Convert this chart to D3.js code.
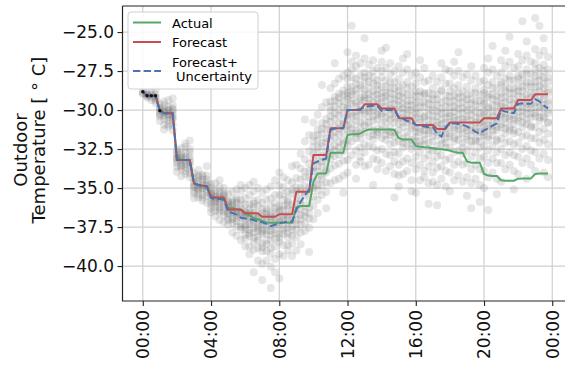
<!DOCTYPE html>
<html><head><meta charset="utf-8">
<script src="https://cdn.jsdelivr.net/npm/d3@7"></script>
<style>body{margin:0;background:#fff} svg{display:block;font-family:"DejaVu Sans",sans-serif}</style>
</head><body><svg id="c" width="565" height="368"></svg>
<script>
// time step of all series: 15 minutes, starting 00:00
const stepHours = 0.25;

const actual = [
 -28.83,-29.08,-29.08,-29.08, -30.04,-30.2,-30.2,-30.2, -33.0,-33.2,-33.2,-33.2, -34.7,-34.8,-34.85,-34.87,
 -35.55,-35.6,-35.6,-35.65, -36.3,-36.3,-36.35,-36.4, -36.6,-36.75,-36.94,-37.0, -37.1,-37.2,-37.22,-37.22,
 -37.22,-37.22,-37.22,-37.22, -36.25,-36.15,-36.15,-36.15, -34.6,-34.06,-34.06,-34.06, -32.75,-32.73,-32.73,-32.73,
 -31.6,-31.55,-31.55,-31.5, -31.35,-31.25,-31.25,-31.25, -31.25,-31.25,-31.25,-31.28, -31.8,-31.88,-31.88,-31.88,
 -32.3,-32.35,-32.38,-32.4, -32.45,-32.5,-32.52,-32.55, -32.6,-32.68,-32.73,-32.73, -33.3,-33.37,-33.37,-33.37,
 -34.1,-34.2,-34.23,-34.23, -34.5,-34.53,-34.53,-34.53, -34.4,-34.38,-34.38,-34.38, -34.1,-34.06,-34.06,-34.06
];
const forecast = [
 -28.83,-29.08,-29.08,-29.08, -30.04,-30.2,-30.2,-30.2, -33.2,-33.2,-33.2,-33.2, -34.7,-34.8,-34.85,-34.87,
 -35.55,-35.6,-35.6,-35.6, -36.37,-36.37,-36.37,-36.37, -36.62,-36.62,-36.62,-36.62, -36.84,-36.84,-36.84,-36.84,
 -36.68,-36.68,-36.68,-36.68, -35.24,-35.24,-35.24,-35.24, -32.88,-32.88,-32.88,-32.88, -31.17,-31.17,-31.17,-31.17,
 -30.0,-30.0,-30.0,-30.0, -29.63,-29.63,-29.63,-29.63, -29.9,-29.9,-29.9,-29.9, -30.53,-30.53,-30.53,-30.53,
 -30.96,-30.96,-30.96,-30.96, -30.96,-31.22,-31.22,-31.22, -30.79,-30.79,-30.79,-30.79, -30.79,-30.79,-30.79,-30.79,
 -30.53,-30.53,-30.53,-30.53, -29.9,-29.9,-29.9,-29.9, -29.36,-29.36,-29.36,-29.36, -28.99,-28.99,-28.99,-28.99
];
const forecastUnc = [
 -28.83,-29.08,-29.08,-29.08, -30.04,-30.2,-30.2,-30.2, -33.2,-33.2,-33.2,-33.2, -34.7,-34.8,-34.85,-34.9,
 -35.65,-35.7,-35.7,-35.75, -36.5,-36.6,-36.7,-36.9, -36.95,-37.0,-37.05,-37.15, -37.2,-37.3,-37.45,-37.35,
 -37.25,-37.2,-37.15,-37.15, -36.4,-35.9,-35.45,-35.1, -33.42,-33.3,-33.2,-33.1, -31.28,-31.17,-31.17,-31.17,
 -30.0,-30.0,-30.0,-29.95, -29.8,-29.75,-29.72,-29.75, -30.06,-30.0,-30.0,-30.0, -30.43,-30.55,-30.7,-30.75,
 -30.96,-31.0,-31.05,-31.1, -31.1,-31.5,-31.7,-31.1, -30.85,-30.85,-30.9,-30.95, -31.05,-31.2,-31.4,-31.5,
 -31.3,-31.17,-31.0,-30.85, -30.0,-30.1,-30.15,-30.2, -29.6,-29.57,-29.6,-29.6, -29.3,-29.45,-29.7,-29.9
];
// observed history shown as black dots (first hour)
const history = [-28.83,-29.08,-29.08,-29.08,-30.04];

// scattered samples, one column per 15-minute step (outer spread)
const scatter = [
 [-28.8,-28.95],[-29.05,-29.2,-28.9],[-29.1,-28.85,-29.35],[-29.0,-29.25,-28.7,-29.55],
 [-29.6,-30.05,-30.3,-30.7,-29.85],[-29.45,-29.95,-30.15,-30.55,-30.95,-31.25],[-29.35,-29.8,-30.05,-30.45,-30.65,-31.05,-30.25],[-29.7,-30.0,-30.35,-30.55,-30.95,-31.3,-29.25],
 [-32.55,-33.05,-33.25,-33.65,-33.95,-32.85],[-32.45,-32.95,-33.15,-33.55,-33.8,-34.25,-33.05],[-32.35,-32.75,-33.15,-33.45,-33.65,-34.1,-32.15],[-32.7,-33.0,-33.35,-33.55,-34.05,-34.3,-31.95],
 [-34.05,-34.35,-34.75,-34.95,-35.35,-35.65],[-33.85,-34.3,-34.55,-34.95,-35.15,-35.6,-35.05],[-34.15,-34.45,-34.85,-35.05,-35.45,-35.8,-34.25],[-34.2,-34.65,-34.9,-35.25,-35.5,-35.95,-33.6],
 [-34.75,-35.25,-35.45,-35.85,-36.05,-36.55,-35.0],[-34.7,-35.15,-35.35,-35.75,-35.95,-36.45,-36.8,-35.6],[-34.95,-35.25,-35.65,-35.85,-36.25,-36.55,-37.05,-34.5],[-35.0,-35.45,-35.65,-36.05,-36.25,-36.75,-37.2,-35.5],
 [-35.35,-35.85,-36.05,-36.45,-36.65,-37.05,-37.35,-35.9],[-35.25,-35.75,-35.95,-36.35,-36.55,-36.95,-37.25,-37.85,-36.2],[-35.1,-35.65,-35.95,-36.45,-36.75,-37.15,-37.45,-38.05,-36.6],[-35.2,-35.75,-36.05,-36.55,-36.85,-37.25,-37.65,-38.35,-34.8],
 [-35.0,-35.65,-36.05,-36.55,-36.85,-37.35,-37.65,-38.25,-38.75,-36.7],[-34.8,-35.45,-36.05,-36.35,-36.85,-37.15,-37.65,-38.05,-38.75,-39.25,-36.6],[-35.2,-35.85,-36.25,-36.75,-37.05,-37.55,-37.85,-38.45,-38.95,-40.4,-34.6],[-35.0,-35.75,-36.15,-36.65,-36.95,-37.45,-37.75,-38.35,-38.85,-39.65,-37.2],
 [-35.3,-35.95,-36.35,-36.85,-37.15,-37.65,-37.95,-38.55,-39.05,-39.85,-40.9],[-35.1,-35.75,-36.35,-36.65,-37.15,-37.45,-37.95,-38.35,-39.05,-39.65,-36.5],[-34.9,-35.65,-36.15,-36.65,-36.95,-37.45,-37.75,-38.35,-38.85,-40.05,-41.4],[-34.5,-35.45,-35.95,-36.55,-36.85,-37.35,-37.65,-38.25,-38.75,-39.55,-40.4],
 [-34.0,-34.85,-35.45,-36.15,-36.55,-37.05,-37.35,-37.95,-38.45,-39.25,-40.8],[-34.3,-34.95,-35.75,-36.15,-36.75,-37.05,-37.55,-37.95,-38.65,-39.35,-36.4],[-34.5,-35.25,-35.75,-36.35,-36.75,-37.25,-37.55,-38.15,-38.65,-35.9],[-33.6,-34.65,-35.35,-36.05,-36.45,-37.05,-37.45,-38.05,-38.55,-39.35],
 [-33.5,-34.35,-34.95,-35.65,-36.05,-36.65,-37.05,-37.65,-38.15,-39.0],[-32.8,-33.75,-34.45,-35.25,-35.75,-36.35,-36.75,-37.35,-37.85,-38.6],[-32.0,-33.15,-33.95,-34.85,-35.45,-36.15,-36.55,-37.25,-37.75,-30.6],[-31.6,-32.65,-33.45,-34.35,-34.95,-35.75,-36.25,-36.95,-37.55,-39.1],
 [-30.8,-31.65,-32.35,-33.15,-33.65,-34.35,-34.85,-35.55,-36.15,-37.0],[-30.3,-31.25,-31.95,-32.75,-33.25,-33.95,-34.45,-35.15,-35.75,-36.6],[-29.8,-30.85,-31.55,-32.35,-32.95,-33.65,-34.15,-34.85,-35.45,-28.4],[-29.5,-30.55,-31.25,-32.05,-32.65,-33.35,-33.85,-34.65,-35.25,-36.3],
 [-28.6,-29.45,-30.05,-30.75,-31.25,-31.95,-32.45,-33.15,-33.75,-34.7],[-28.3,-29.15,-29.75,-30.55,-31.05,-31.75,-32.25,-32.95,-33.55,-34.5,-27.0],[-28.0,-28.95,-29.55,-30.35,-30.85,-31.55,-32.05,-32.85,-33.45,-34.4],[-27.8,-28.75,-29.45,-30.25,-30.75,-31.45,-31.95,-32.65,-33.25,-34.2,-35.3],
 [-26.3,-27.6,-28.0,-28.9,-29.3,-29.8,-30.6,-31.0,-31.9,-32.3,-33.2,-34.0],[-24.6,-26.9,-27.4,-28.5,-29.0,-29.6,-30.2,-30.9,-31.5,-32.0,-32.9],[-26.5,-27.2,-28.3,-28.7,-29.5,-30.1,-30.4,-31.3,-31.8,-32.6,-33.5,-34.4],[-27.0,-27.8,-28.4,-29.2,-29.7,-30.3,-31.1,-31.5,-32.4,-33.0,-33.3],
 [-25.4,-26.7,-27.6,-28.2,-29.0,-29.4,-30.2,-30.7,-31.4,-32.2,-32.7,-33.6],[-27.1,-27.8,-28.6,-29.0,-29.9,-30.4,-30.8,-31.7,-32.3,-33.5],[-26.8,-27.5,-28.3,-29.1,-29.5,-30.0,-30.7,-31.3,-31.9,-32.4,-33.1,-34.8],[-27.3,-28.1,-28.7,-29.3,-30.1,-30.6,-31.2,-31.6,-32.6,-33.2,-33.8],
 [-26.2,-26.9,-27.9,-28.5,-29.2,-29.8,-30.4,-30.9,-31.8,-32.5,-33.4],[-26.0,-27.3,-28.1,-28.9,-29.4,-30.1,-30.5,-31.3,-31.9,-32.8,-33.9],[-27.0,-27.7,-28.6,-29.3,-29.7,-30.3,-31.1,-31.6,-32.2,-32.9,-33.6],[-27.5,-28.2,-29.0,-29.6,-30.2,-30.8,-31.4,-32.1,-32.7,-33.3,-34.1,-35.6],
 [-27.2,-28.0,-28.8,-29.4,-30.0,-30.9,-31.3,-32.0,-32.8,-33.5,-34.2,-34.9],[-26.7,-27.6,-28.4,-29.2,-29.9,-30.5,-31.1,-31.8,-32.4,-33.3,-34.1],[-26.4,-27.4,-28.2,-29.0,-29.7,-30.3,-30.8,-31.7,-32.2,-33.1,-33.9],[-27.8,-28.5,-29.4,-30.0,-30.7,-31.2,-31.9,-32.5,-33.4,-34.5,-35.2],
 [-27.6,-28.3,-29.1,-29.9,-30.5,-31.1,-31.7,-32.3,-33.0,-33.8,-35.3],[-26.8,-27.9,-28.8,-29.5,-30.2,-30.8,-31.4,-32.0,-32.7,-33.5,-34.5],[-27.3,-28.2,-29.0,-29.8,-30.4,-31.0,-31.6,-32.2,-33.1,-33.9,-34.3],[-28.1,-28.9,-29.6,-30.3,-31.0,-31.5,-32.1,-32.9,-33.6,-34.7,-36.0],
 [-27.8,-28.6,-29.3,-30.0,-30.7,-31.3,-32.0,-32.6,-33.3,-34.0,-34.6],[-28.2,-29.0,-29.7,-30.4,-31.0,-31.6,-32.3,-33.0,-33.7,-34.8,-36.1],[-27.0,-27.9,-28.7,-29.5,-30.2,-30.9,-31.5,-32.2,-32.9,-33.6,-34.4],[-27.4,-28.3,-29.1,-29.8,-30.5,-31.2,-31.8,-32.4,-33.2,-33.9,-34.9],
 [-27.5,-28.3,-29.1,-29.8,-30.4,-31.0,-31.7,-32.4,-33.1,-34.0,-35.2],[-26.9,-27.8,-28.6,-29.4,-30.1,-30.7,-31.3,-32.0,-32.7,-33.5,-34.5],[-26.3,-27.5,-28.4,-29.2,-29.9,-30.6,-31.2,-31.9,-32.6,-33.3,-34.2],[-27.9,-28.8,-29.5,-30.2,-30.8,-31.5,-32.1,-32.8,-33.5,-34.6],
 [-27.7,-28.5,-29.3,-30.0,-30.6,-31.3,-31.9,-32.6,-33.4,-34.3,-35.5],[-27.2,-28.1,-28.9,-29.6,-30.3,-31.0,-31.6,-32.3,-33.0,-33.8,-34.7,-36.3],[-27.8,-28.6,-29.4,-30.1,-30.8,-31.4,-32.0,-32.7,-33.5,-34.4],[-28.2,-29.0,-29.8,-30.5,-31.1,-31.7,-32.4,-33.1,-33.8,-34.8,-35.9],
 [-27.3,-28.1,-28.9,-29.6,-30.3,-31.0,-31.6,-32.3,-33.0,-33.9,-35.0],[-26.7,-27.6,-28.4,-29.2,-29.9,-30.6,-31.2,-31.9,-32.6,-33.4,-34.3,-36.4],[-25.9,-27.4,-28.2,-29.0,-29.7,-30.4,-31.0,-31.6,-32.3,-33.1,-34.0],[-27.8,-28.6,-29.4,-30.1,-30.7,-31.3,-32.0,-32.7,-33.4,-34.4,-35.4],
 [-26.8,-27.6,-28.4,-29.2,-29.8,-30.4,-31.1,-31.8,-32.5,-33.4,-34.6],[-26.2,-27.2,-28.0,-28.8,-29.5,-30.2,-30.8,-31.5,-32.1,-32.9,-33.8],[-25.3,-26.9,-27.8,-28.6,-29.3,-30.0,-30.6,-31.3,-32.0,-32.7,-33.5],[-27.3,-28.1,-28.9,-29.6,-30.3,-30.9,-31.5,-32.2,-32.9,-33.9,-35.1],
 [-26.4,-27.2,-28.0,-28.8,-29.5,-30.1,-30.7,-31.4,-32.1,-33.0,-34.1],[-24.3,-26.8,-27.7,-28.5,-29.2,-29.8,-30.4,-31.1,-31.7,-32.5,-33.4],[-25.6,-26.5,-27.4,-28.2,-29.0,-29.6,-30.2,-30.9,-31.6,-32.3,-33.1,-34.4],[-26.9,-27.7,-28.5,-29.2,-29.9,-30.5,-31.1,-31.8,-32.6,-33.5],
 [-24.1,-26.1,-27.0,-27.8,-28.5,-29.2,-29.8,-30.4,-31.1,-31.8,-32.7,-33.9],[-24.6,-26.5,-27.3,-28.1,-28.8,-29.5,-30.1,-30.7,-31.4,-32.1,-33.1],[-25.4,-26.2,-27.1,-27.9,-28.6,-29.3,-29.9,-30.5,-31.2,-31.9,-32.8,-34.0],[-26.6,-27.4,-28.2,-28.9,-29.6,-30.2,-30.8,-31.5,-32.2,-33.2,-34.3]
];
// denser samples near the centre of each column
const scatterCore = [
 [-28.9],[-29.1,-29.0],[-29.0,-29.2],[-29.15,-29.4],
 [-29.9,-30.2,-30.4],[-30.1,-30.35,-29.7],[-30.0,-30.3,-30.9],[-30.15,-30.5,-29.9],
 [-33.1,-33.4,-32.7],[-33.3,-32.8,-33.6],[-33.0,-33.35,-33.9],[-33.2,-33.8,-32.5],
 [-34.6,-34.9,-35.2],[-34.75,-35.4,-34.2],[-34.65,-35.0,-35.6],[-34.8,-35.1,-34.45],
 [-35.6,-35.35,-36.3],[-35.55,-35.9,-36.2],[-35.45,-36.0,-36.4],[-35.8,-35.3,-36.5],
 [-36.2,-36.6,-36.9],[-36.1,-36.45,-37.0],[-36.3,-36.9,-35.8],[-36.35,-36.7,-37.5],
 [-36.5,-37.0,-37.5,-38.0],[-36.7,-37.3,-37.9],[-36.6,-37.2,-38.2,-36.0],[-36.9,-37.6,-38.1],
 [-36.6,-37.3,-37.8,-38.8],[-36.9,-37.7,-38.6],[-36.8,-37.2,-38.0,-39.2],[-36.3,-37.1,-37.9],
 [-36.4,-37.2,-38.2],[-36.9,-37.7,-35.4],[-36.1,-37.0,-37.9,-39.0],[-36.8,-37.7,-35.1],
 [-35.2,-36.3,-37.3],[-35.0,-36.0,-37.0],[-34.3,-35.3,-36.8],[-33.9,-35.2,-36.6],
 [-32.0,-32.8,-33.9,-35.0],[-31.6,-32.4,-33.6,-34.8],[-31.2,-32.1,-33.3,-34.4],[-30.9,-31.8,-33.0,-34.0],
 [-29.8,-30.4,-31.6,-32.8],[-29.4,-30.2,-31.4,-32.6],[-29.2,-30.0,-31.2,-32.4],[-29.0,-29.8,-30.9,-32.2],
 [-28.5,-29.1,-29.9,-30.3,-31.3],[-27.9,-28.8,-29.4,-30.4,-31.2],[-28.0,-29.0,-29.8,-30.7,-31.5],[-28.6,-29.4,-30.0,-30.8,-31.8],
 [-27.9,-28.7,-29.2,-30.0,-31.0],[-28.2,-29.3,-29.6,-30.1,-31.1],[-27.9,-28.8,-29.8,-30.4,-31.6],[-28.4,-29.0,-29.6,-30.3,-31.4],
 [-27.5,-28.9,-29.5,-30.2,-31.3],[-28.5,-29.1,-29.8,-30.8,-31.6],[-28.2,-28.9,-29.9,-30.6,-31.4],[-28.6,-29.3,-30.0,-30.5,-31.7],
 [-28.5,-29.1,-29.7,-30.5,-31.6],[-28.9,-29.6,-30.2,-30.8,-32.1],[-28.6,-29.4,-30.0,-30.6,-31.4],[-29.0,-29.7,-30.4,-31.0,-32.2],
 [-28.8,-29.5,-30.2,-31.4,-32.0],[-29.1,-29.8,-30.6,-31.2,-32.3],[-28.9,-29.5,-30.5,-31.3,-31.9],[-29.3,-30.0,-30.7,-31.3,-32.5],
 [-29.0,-29.7,-30.4,-31.1,-31.7],[-29.3,-30.1,-30.8,-31.4,-32.6],[-28.8,-29.9,-30.6,-31.2,-31.9],[-29.4,-30.2,-30.8,-31.5,-32.1],
 [-28.8,-29.5,-30.2,-30.8,-31.5],[-29.1,-29.8,-30.5,-31.1,-31.8],[-28.9,-29.6,-30.3,-31.0,-31.6],[-29.2,-29.9,-30.6,-31.2,-32.4],
 [-29.0,-29.7,-30.4,-31.1,-31.7],[-29.3,-30.0,-30.7,-31.3,-32.0],[-28.9,-29.7,-30.5,-31.2,-31.9],[-29.4,-30.2,-30.8,-31.4,-32.0],
 [-28.7,-29.4,-30.1,-30.7,-31.4],[-29.0,-29.8,-30.4,-31.0,-31.7],[-28.6,-29.3,-30.1,-30.8,-31.3],[-29.1,-29.7,-30.5,-31.1,-31.9],
 [-28.2,-28.9,-29.6,-30.3,-30.9],[-28.5,-29.2,-29.9,-30.5,-31.2],[-28.1,-28.9,-29.7,-30.4,-31.1],[-28.6,-29.3,-30.0,-30.6,-31.3],
 [-27.8,-28.5,-29.1,-29.8,-30.5],[-28.1,-28.8,-29.5,-30.1,-30.8],[-27.7,-28.5,-29.3,-29.9,-30.6],[-28.2,-28.9,-29.6,-30.2,-31.0],
 [-27.4,-28.2,-28.9,-29.5,-30.2],[-27.8,-28.5,-29.2,-29.8,-30.5],[-27.5,-28.3,-29.0,-29.7,-30.4],[-27.9,-28.7,-29.4,-30.0,-30.8]
];

const xTickHours = [0,4,8,12,16,20,24];
const xTickLabels = ["00:00","04:00","08:00","12:00","16:00","20:00","00:00"];
const yTicks = [-40,-37.5,-35,-32.5,-30,-27.5,-25];
const seriesNames = ["Actual","Forecast","Forecast+","Uncertainty"];

const svg = d3.select("#c");
const L = 122.5, R = 568.3, T = 6, B = 301;
const x = d3.scaleLinear().domain([-1.19, 24.94]).range([L, R]);
const y = d3.scaleLinear().domain([-42.24, -23.33]).range([B, T]);

svg.append("defs").append("clipPath").attr("id","clip")
  .append("rect").attr("x",L).attr("y",T).attr("width",R-L).attr("height",B-T);

// grid
const grid = svg.append("g").attr("stroke","#d0d0d0").attr("stroke-width",1.2);
grid.selectAll(".gx").data(xTickHours).join("line")
  .attr("x1",d=>x(d)).attr("x2",d=>x(d)).attr("y1",T).attr("y2",B);
grid.selectAll(".gy").data(yTicks).join("line")
  .attr("x1",L).attr("x2",R).attr("y1",d=>y(d)).attr("y2",d=>y(d));

const plot = svg.append("g").attr("clip-path","url(#clip)");

// scatter
const pts = [];
scatter.forEach((col,i)=>col.forEach(v=>pts.push([i*stepHours, v])));
scatterCore.forEach((col,i)=>col.forEach(v=>pts.push([i*stepHours, v])));
plot.append("g").selectAll("circle").data(pts).join("circle")
  .attr("cx",d=>x(d[0])).attr("cy",d=>y(d[1])).attr("r",4)
  .attr("fill","#686868").attr("fill-opacity",0.17);

const line = d3.line().x((d,i)=>x(i*stepHours)).y(d=>y(d));
plot.append("path").datum(actual).attr("d",line).attr("fill","none")
  .attr("stroke","#55a868").attr("stroke-width",2).attr("stroke-linejoin","round");
plot.append("path").datum(forecast).attr("d",line).attr("fill","none")
  .attr("stroke","#c44e52").attr("stroke-width",2).attr("stroke-linejoin","round");
plot.append("path").datum(forecastUnc).attr("d",line).attr("fill","none")
  .attr("stroke","#4c72b0").attr("stroke-width",2).attr("stroke-dasharray","7.4,3.2");
plot.append("g").selectAll("circle").data(history).join("circle")
  .attr("cx",(d,i)=>x(i*stepHours)).attr("cy",d=>y(d)).attr("r",1.7).attr("fill","#111");

// axes
const yAxis = d3.axisLeft(y).tickValues(yTicks).tickSize(5).tickPadding(3.5)
  .tickFormat(d=>d3.format(".1f")(d).replace("-","\u2212"));
const gy = svg.append("g").attr("transform",`translate(${L},0)`).call(yAxis);
gy.select(".domain").remove();
gy.selectAll("line").attr("stroke","#222").attr("stroke-width",1.1);
gy.selectAll("text").attr("font-size",17).attr("fill","#111").attr("font-family","DejaVu Sans");

const xAxis = d3.axisBottom(x).tickValues(xTickHours).tickSize(5).tickFormat((d,i)=>xTickLabels[i]);
const gx = svg.append("g").attr("transform",`translate(0,${B})`).call(xAxis);
gx.select(".domain").remove();
gx.selectAll("line").attr("stroke","#222").attr("stroke-width",1.1);
gx.selectAll("text").attr("font-size",17).attr("fill","#111").attr("font-family","DejaVu Sans")
  .attr("transform","rotate(-90)").attr("text-anchor","end")
  .attr("x",-9).attr("y",0).attr("dy","0.35em");

// spines
svg.append("path").attr("d",`M${L},${T}H${R}M${L},${T}V${B}H${R}`)
  .attr("fill","none").attr("stroke","#222").attr("stroke-width",1.2);

// y label
const yl = svg.append("g").attr("font-size",18).attr("fill","#111");
yl.append("text").attr("transform","translate(27,150) rotate(-90)").attr("text-anchor","middle").text("Outdoor");
yl.append("text").attr("transform","translate(45,140) rotate(-90)").attr("text-anchor","middle").text("Temperature [ \u00b0 C]");

// legend
const lg = svg.append("g");
lg.append("rect").attr("x",128).attr("y",12).attr("width",130).attr("height",77).attr("rx",3)
  .attr("fill","#fff").attr("fill-opacity",0.85).attr("stroke","#d0d0d0");
const items = [
  {color:"#55a868", dash:null, ly:22.5},
  {color:"#c44e52", dash:null, ly:42},
  {color:"#4c72b0", dash:"7.4,3.2", ly:71}
];
items.forEach(it=>{
  lg.append("line").attr("x1",133).attr("x2",161).attr("y1",it.ly).attr("y2",it.ly)
    .attr("stroke",it.color).attr("stroke-width",2).attr("stroke-dasharray",it.dash);
});
lg.append("text").attr("x",172).attr("y",28).attr("font-size",13).text(seriesNames[0]);
lg.append("text").attr("x",172).attr("y",47).attr("font-size",13).text(seriesNames[1]);
lg.append("text").attr("x",172).attr("y",67).attr("font-size",13).text(seriesNames[2]);
lg.append("text").attr("x",176).attr("y",81).attr("font-size",13).text(seriesNames[3]);
</script></body></html>
